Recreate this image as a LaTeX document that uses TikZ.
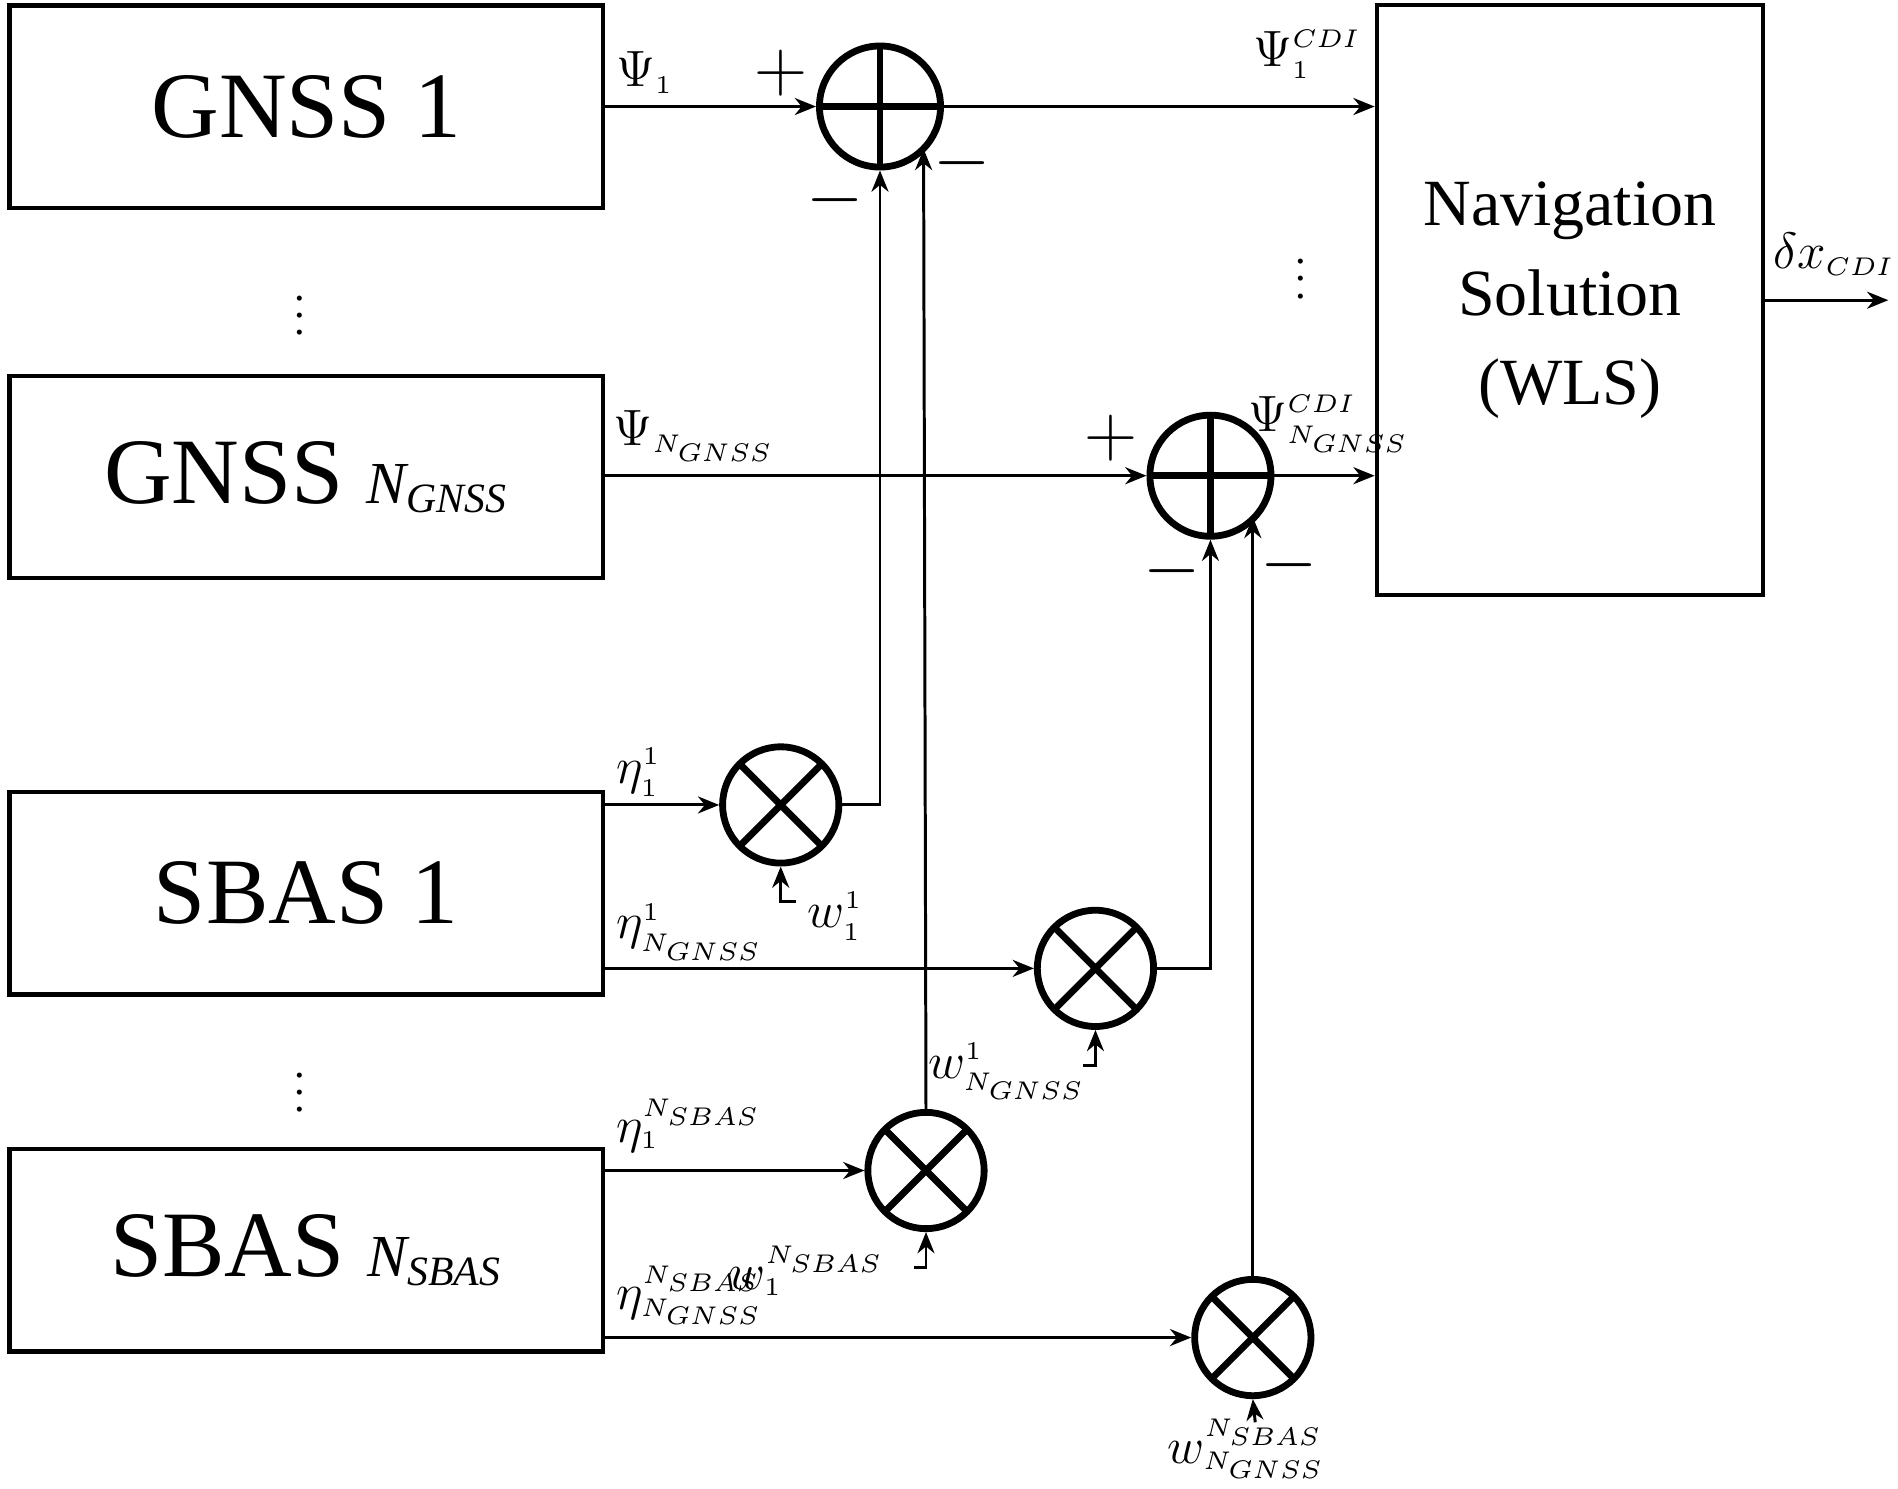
\documentclass[tikz,border=0pt]{standalone}
\usepackage{fontspec}
\setmainfont{Liberation Serif}
\usetikzlibrary{arrows.meta}
\newcommand{\sst}[1]{\scriptscriptstyle #1}
\begin{document}
\begin{tikzpicture}[x=0.01cm,y=-0.01cm,
 blk/.style={draw,line width=1pt,minimum width=4.9cm,minimum height=1.67cm,font=\fontsize{22}{24}\selectfont},
 sum/.style={circle,draw,line width=1.6pt,minimum size=1cm,inner sep=0pt,path picture={
   \draw[line width=1.6pt] (path picture bounding box.north)--(path picture bounding box.south)
   (path picture bounding box.west)--(path picture bounding box.east);}},
 mul/.style={circle,draw,line width=1.6pt,minimum size=0.96cm,inner sep=0pt,path picture={
   \draw[line width=1.6pt] (path picture bounding box.north west)--(path picture bounding box.south east)
   (path picture bounding box.north east)--(path picture bounding box.south west);}},
 ar/.style={-{Stealth[length=5pt,width=4pt]},line width=0.7pt},
 lab/.style={font=\fontsize{12}{14}\selectfont,inner sep=1pt},
 sg/.style={font=\fontsize{16}{18}\selectfont}]
\useasboundingbox (0,0) rectangle (1568,1230);
\node[blk] (g1) at (253,88) {GNSS 1};
\node[blk] (gn) at (253,394) {GNSS {\fontsize{14}{16}\selectfont\itshape N\textsubscript{GNSS}}};
\node[blk] (s1) at (253,738) {SBAS 1};
\node[blk] (sn) at (253,1033) {SBAS {\fontsize{14}{16}\selectfont\itshape N\textsubscript{SBAS}}};
\node[draw,line width=1pt,minimum width=3.19cm,minimum height=4.87cm,align=center,font=\fontsize{15.5}{21}\selectfont] (nav) at (1297,248) {Navigation\\Solution\\(WLS)};
\node (d1) at (248,250) {$\vdots$};
\node (d2) at (248,892) {$\vdots$};
\node (d3) at (1075,220) {$\vdots$};
\node[sum] (S1) at (727,88) {};
\node[sum] (S2) at (1000,393) {};
\node[mul] (M1) at (645,665) {};
\node[mul] (M2) at (905,800) {};
\node[mul] (M3) at (765,967) {};
\node[mul] (M4) at (1035,1105) {};
\draw[ar] (g1.east) -- (S1.west);
\draw[ar] (S1.east) -- (S1.east -| nav.west);
\draw[ar] (gn.east |- S2) -- (S2.west);
\draw[ar] (S2.east) -- (S2.east -| nav.west);
\coordinate (o) at (1560,248);
\draw[ar] (nav.east |- o) -- (o);
\draw[ar] (s1.east |- M1) -- (M1.west);
\draw[ar] (M1.east) -- (727,665) -- (S1.south);
\draw[ar] (s1.east |- M2) -- (M2.west);
\draw[ar] (M2.east) -- (1000,800) -- (S2.south);
\draw[ar] (sn.east |- M3) -- (M3.west);
\coordinate (t3) at (763,123);
\draw[ar] (M3.north) -- (t3);
\draw[ar] (sn.east |- M4) -- (M4.west);
\coordinate (t4) at (1035,427);
\draw[ar] (M4.north) -- (t4);
\coordinate (w1) at (658,745);
\draw[ar] (w1) -- (645,745) -- (M1.south);
\coordinate (w2) at (895,880);
\draw[ar] (w2) -- (905,880) -- (M2.south);
\coordinate (w3) at (755,1047);
\draw[ar] (w3) -- (765,1047) -- (M3.south);
\coordinate (w4) at (1037,1175);
\draw[ar] (w4) -- (M4.south);
\node[lab,anchor=west] at (505,60) {$\Psi_{\sst1}$};
\node[lab] at (1080,45) {$\Psi_{\sst1}^{\sst CDI}$};
\node[lab,anchor=west] at (503,360) {$\Psi_{\sst N_{GNSS}}$};
\node[lab] at (1098,350) {$\Psi^{\sst CDI}_{\sst N_{GNSS}}$};
\node[lab] at (1515,210) {$\delta x_{\sst CDI}$};
\node[lab,anchor=west] at (505,638) {$\eta_{\sst1}^{\sst1}$};
\node[lab,anchor=west] at (505,770) {$\eta^{\sst1}_{\sst N_{GNSS}}$};
\node[lab,anchor=west] at (505,930) {$\eta_{\sst1}^{\sst N_{SBAS}}$};
\node[lab,anchor=west] at (505,1070) {$\eta^{\sst N_{SBAS}}_{\sst N_{GNSS}}$};
\node[lab,anchor=west] at (663,757) {$w_{\sst1}^{\sst1}$};
\node[lab] at (832,885) {$w^{\sst1}_{\sst N_{GNSS}}$};
\node[lab,anchor=east] at (735,1050) {$w_{\sst1}^{\sst N_{SBAS}}$};
\node[lab] at (1030,1197) {$w^{\sst N_{SBAS}}_{\sst N_{GNSS}}$};
\node[sg] at (645,60) {$+$};
\node[sg] at (918,362) {$+$};
\node[sg] at (690,165) {$-$};
\node[sg] at (795,135) {$-$};
\node[sg] at (968,472) {$-$};
\node[sg] at (1065,467) {$-$};
\end{tikzpicture}
\end{document}
